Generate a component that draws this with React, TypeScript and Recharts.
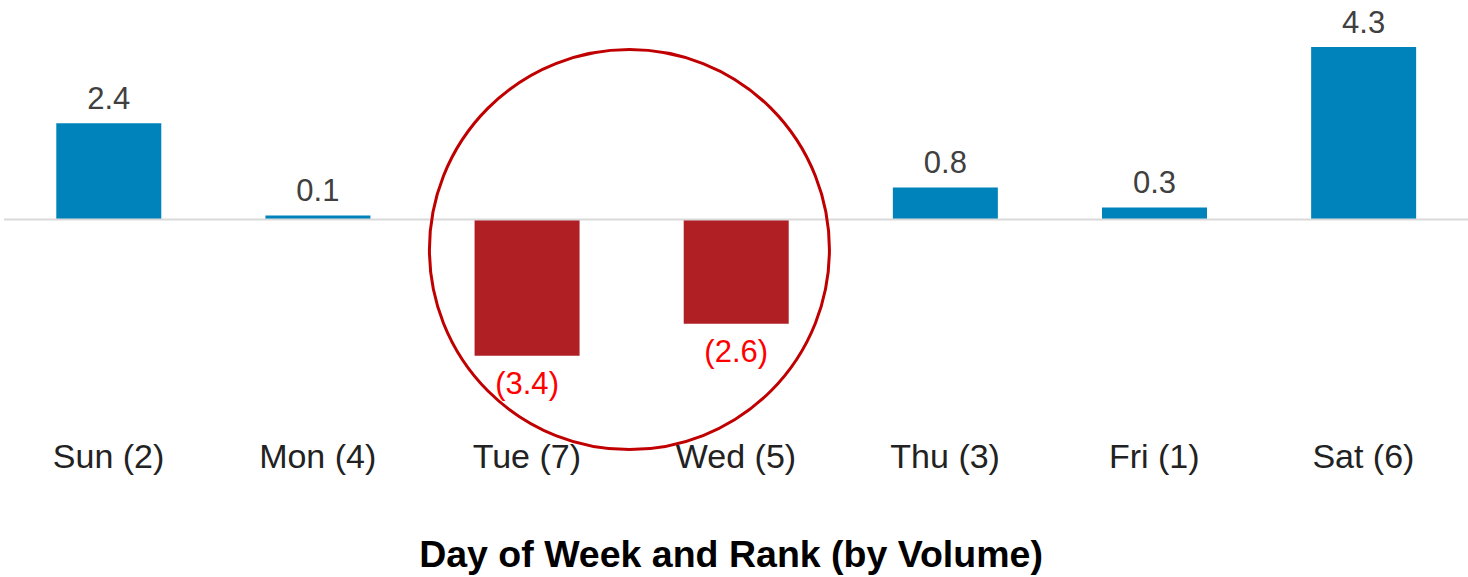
import { BarChart, Bar, XAxis, YAxis, Cell, LabelList, ReferenceLine, ReferenceDot } from 'recharts'

const days = ['Sun (2)', 'Mon (4)', 'Tue (7)', 'Wed (5)', 'Thu (3)', 'Fri (1)', 'Sat (6)']
const variance = [2.4, 0.1, -3.4, -2.6, 0.8, 0.3, 4.3]

const data = days.map((day, i) => ({ day, value: variance[i] }))

const W = 1468
const H = 577
const margin = { top: 19, right: 0, bottom: 0, left: 4 }
const halfBand = (W - margin.left - margin.right) / days.length / 2

const BLUE = '#0083ba'
const RED = '#b01f24'

function ValueLabel(props: any) {
  const { x, y, width, height, value } = props
  const top = Math.min(y, y + height)
  const bottom = Math.max(y, y + height)
  const cx = x + width / 2
  if (value < 0) {
    return (
      <text x={cx} y={bottom + 38} textAnchor="middle" fontSize={31} fill="#ff0000">
        ({Math.abs(value).toFixed(1)})
      </text>
    )
  }
  return (
    <text x={cx} y={top - 14} textAnchor="middle" fontSize={31} fill="#404040">
      {value.toFixed(1)}
    </text>
  )
}

// circle drawn between Tue and Wed
function Ring(props: any) {
  const { cx, cy } = props
  return <circle cx={cx + halfBand - 2} cy={cy} r={200} fill="none" stroke="#c00000" strokeWidth={3} />
}

export default function App() {
  return (
    <div style={{ position: 'absolute', left: 0, top: 0, fontFamily: '"Liberation Sans", Arial, sans-serif' }}>
      <BarChart width={W} height={H} data={data} margin={margin} barCategoryGap="25%">
        <XAxis
          dataKey="day"
          axisLine={false}
          tickLine={false}
          tickMargin={18}
          height={157}
          interval={0}
          tick={{ fontSize: 34, fill: '#222' }}
          label={{
            value: 'Day of Week and Rank (by Volume)',
            position: 'insideBottom',
            offset: 10,
            dx: -5,
            style: { fontSize: 37.5, fontWeight: 'bold', fill: '#000' },
          }}
        />
        <YAxis hide domain={[-5, 5]} />
        <ReferenceLine y={0} stroke="#d9d9d9" strokeWidth={2} />
        <Bar dataKey="value" isAnimationActive={false}>
          {data.map((d) => (
            <Cell key={d.day} fill={d.value < 0 ? RED : BLUE} />
          ))}
          <LabelList dataKey="value" content={ValueLabel} />
        </Bar>
        <ReferenceDot x="Tue (7)" y={-0.75} r={200} shape={Ring} ifOverflow="visible" />
      </BarChart>
    </div>
  )
}
